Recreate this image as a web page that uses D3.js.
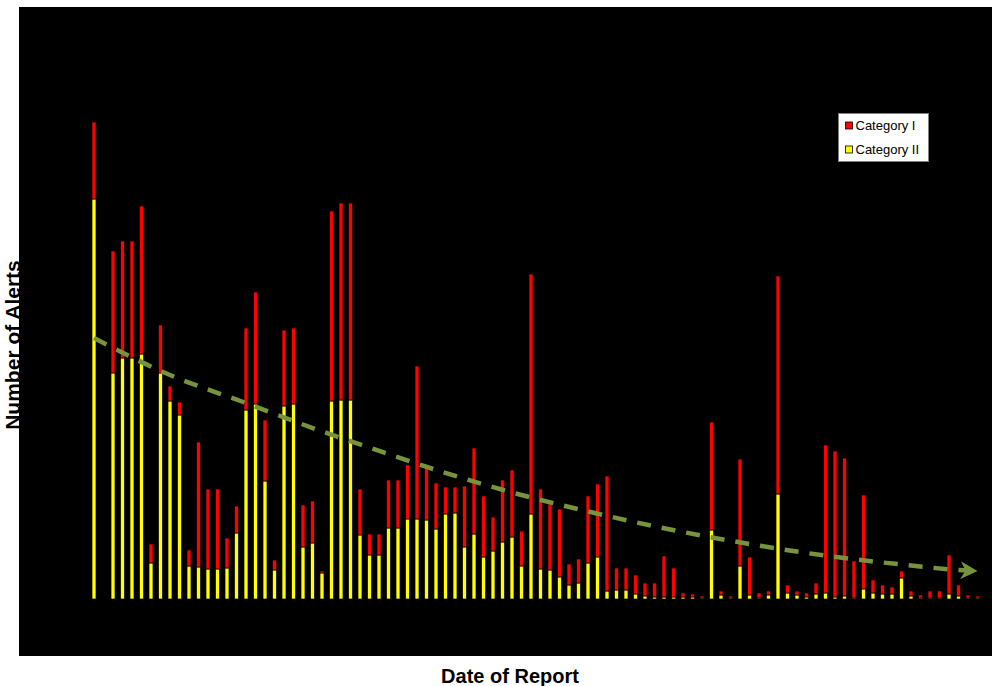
<!DOCTYPE html>
<html>
<head>
<meta charset="utf-8">
<script src="https://cdn.jsdelivr.net/npm/d3@7"></script>
<style>
  body { margin: 0; background: #fff; }
  svg { display: block; font-family: "Liberation Sans", Arial, sans-serif; }
</style>
</head>
<body>
<svg id="chart"></svg>
<script>
// one value per report, left to right (ticks are black on black in the original)
const reports = d3.range(94);

const categoryII = [400, 0, 226, 241, 241, 245, 36, 226, 198, 184, 33, 32, 30, 30, 31, 66, 189, 195, 118, 29,
  193, 195, 52, 56, 26, 198, 199, 199, 64, 44, 44, 71, 71, 80, 80, 79, 70, 85, 86, 52,
  65, 42, 48, 57, 62, 33, 85, 30, 29, 22, 14, 16, 36, 42, 8, 9, 9, 5, 3, 2,
  2, 2, 2, 2, 1, 69, 4, 1, 33, 4, 1, 4, 105, 6, 4, 2, 5, 6, 2, 3,
  1, 10, 6, 5, 5, 21, 3, 1, 1, 1, 5, 3, 1, 1];

const categoryI = [77, 0, 122, 117, 117, 148, 19, 48, 15, 13, 16, 125, 80, 80, 30, 27, 82, 112, 61, 10,
  76, 76, 42, 42, 2, 190, 197, 197, 46, 21, 21, 48, 48, 54, 153, 54, 46, 27, 26, 61,
  86, 61, 34, 62, 67, 35, 240, 80, 66, 68, 21, 24, 67, 73, 115, 22, 22, 19, 13, 14,
  41, 29, 4, 3, 2, 108, 4, 2, 107, 38, 5, 4, 218, 8, 4, 4, 11, 148, 146, 138,
  37, 94, 13, 9, 7, 7, 5, 3, 7, 7, 39, 11, 3, 2];

// trend arrow, read at report positions
const trendIndex = [0, 8, 15.7, 23.6, 28.8, 36.7, 44.6, 52.7, 60.4, 69, 77.3, 85.5, 91, 93];
const trendValue = [261, 224, 197, 169, 152, 127, 105, 86, 70, 55, 43, 34, 29, 28];

const seriesNames = ['Category I', 'Category II'];
const seriesColors = {'Category I': '#ff0000', 'Category II': '#ffff00'};

const W = 992, H = 686;
const svg = d3.select('#chart').attr('width', W).attr('height', H);

const xScale = d3.scaleLinear().domain([0, reports.length - 1]).range([94, 977.5]);
const yScale = d3.scaleLinear().domain([0, 500]).range([599, 99]);

// axis titles sit under the plot panel, which clips the y title a bit
svg.append('text')
  .attr('transform', 'translate(20,345) rotate(-90)')
  .attr('text-anchor', 'middle')
  .attr('font-size', 21)
  .attr('font-weight', 'bold')
  .text('Number of Alerts');

svg.append('text')
  .attr('x', 510)
  .attr('y', 683)
  .attr('text-anchor', 'middle')
  .attr('font-size', 20)
  .attr('font-weight', 'bold')
  .text('Date of Report');

svg.append('rect')
  .attr('x', 19).attr('y', 7)
  .attr('width', W - 19).attr('height', 649)
  .attr('fill', '#000');

const table = reports.map(i => ({report: i, 'Category II': categoryII[i], 'Category I': categoryI[i]}));
const stacked = d3.stack().keys(['Category II', 'Category I'])(table);

const barW = 4;
svg.append('g')
  .selectAll('g')
  .data(stacked)
  .enter().append('g')
    .attr('fill', d => seriesColors[d.key])
  .selectAll('rect')
  .data(d => d.filter(p => p[1] > p[0]))
  .enter().append('rect')
    .attr('x', d => xScale(d.data.report) - barW / 2)
    .attr('y', d => yScale(d[1]))
    .attr('width', barW)
    .attr('height', d => yScale(d[0]) - yScale(d[1]))
    .attr('stroke', '#000')
    .attr('stroke-width', 0.7);

// dashed trend with arrow head
const trendColor = '#77933c';
svg.append('defs').append('marker')
    .attr('id', 'arrow')
    .attr('markerUnits', 'userSpaceOnUse')
    .attr('viewBox', '0 0 18 18')
    .attr('refX', 17).attr('refY', 9)
    .attr('markerWidth', 18).attr('markerHeight', 18)
    .attr('orient', 'auto')
  .append('path')
    .attr('d', 'M0,0 L17,9 L0,18 L5,9 Z')
    .attr('fill', trendColor);

const trendLine = d3.line()
  .x(d => xScale(d[0]))
  .y(d => yScale(d[1]))
  .curve(d3.curveMonotoneX);

svg.append('path')
  .datum(d3.zip(trendIndex, trendValue))
  .attr('d', trendLine)
  .attr('fill', 'none')
  .attr('stroke', trendColor)
  .attr('stroke-width', 4.5)
  .attr('stroke-dasharray', '14,11')
  .attr('marker-end', 'url(#arrow)');

// legend
const legend = svg.append('g').attr('transform', 'translate(838.5,113.5)');
legend.append('rect')
  .attr('width', 90).attr('height', 48)
  .attr('fill', '#fff')
  .attr('stroke', '#808080');

const item = legend.selectAll('g.item')
  .data(seriesNames)
  .enter().append('g')
    .attr('class', 'item')
    .attr('transform', (d, i) => 'translate(7,' + (8.5 + i * 24) + ')');

item.append('rect')
  .attr('width', 7).attr('height', 7)
  .attr('fill', d => seriesColors[d])
  .attr('stroke', '#000')
  .attr('stroke-width', 0.8);

item.append('text')
  .attr('x', 10)
  .attr('y', 3.5)
  .attr('dy', '0.35em')
  .attr('font-size', 13)
  .attr('fill', '#000')
  .text(d => d);
</script>
</body>
</html>
